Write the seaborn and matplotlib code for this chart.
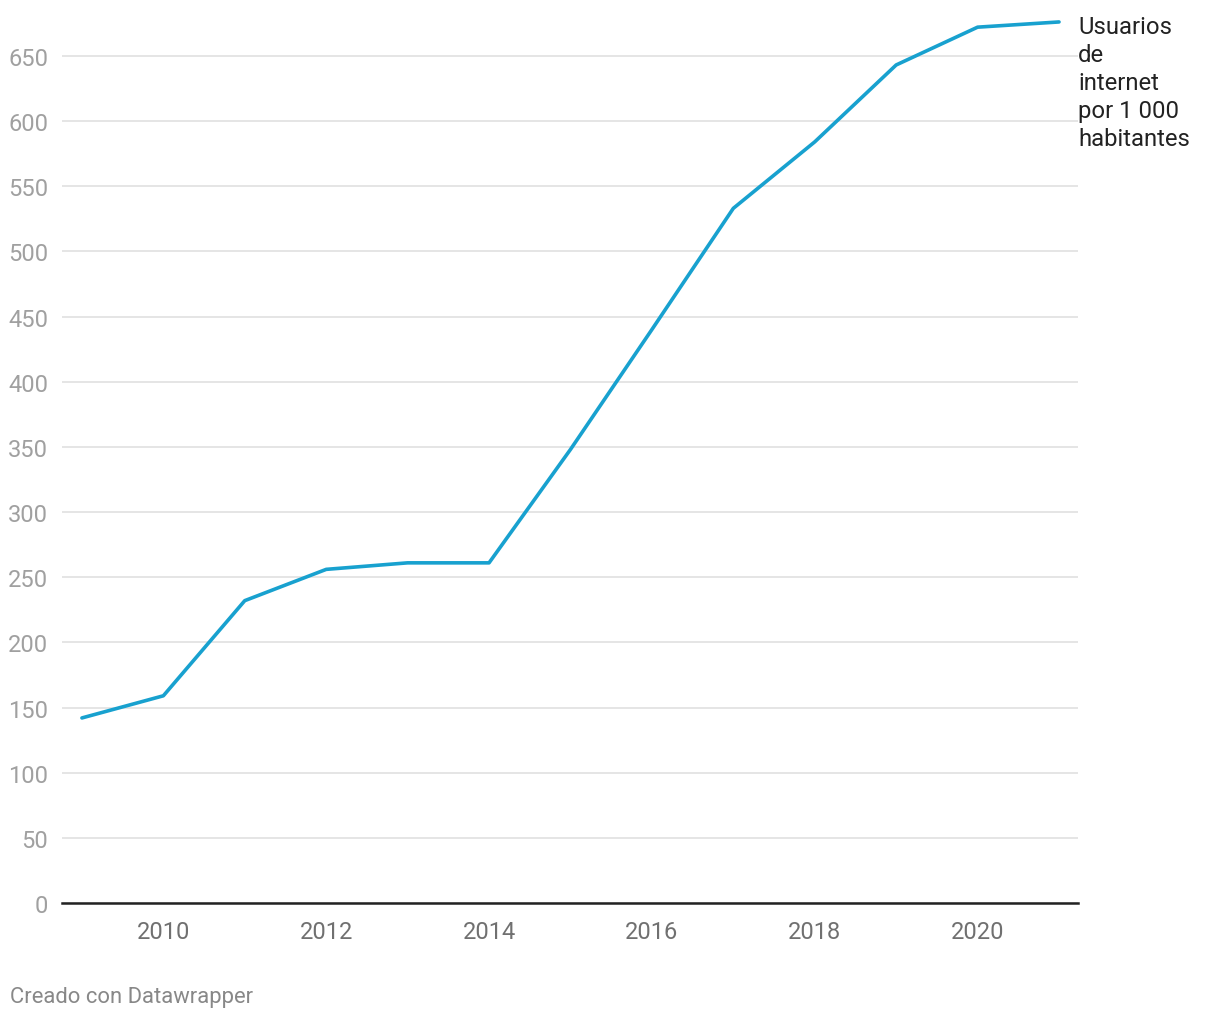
import pandas as pd
import matplotlib.pyplot as plt
import seaborn as sns

# Usuarios de internet por 1 000 habitantes
years = [2009, 2010, 2011, 2012, 2013, 2014, 2015, 2016, 2017, 2018, 2019, 2020, 2021]
users = [142, 159, 232, 256, 261, 261, 348, 440, 533, 584, 643, 672, 676]
y_ticks = [0, 50, 100, 150, 200, 250, 300, 350, 400, 450, 500, 550, 600, 650]
x_ticks = [2010, 2012, 2014, 2016, 2018, 2020]
series_label = "Usuarios\nde\ninternet\npor 1 000\nhabitantes"

df = pd.DataFrame({"year": years, "users": users})

sns.set_theme(style="white")
plt.rcParams["font.family"] = ["Roboto", "DejaVu Sans"]

fig = plt.figure(figsize=(12.2, 10.2), dpi=100)
ax = fig.add_axes([0.0508, 0.1137, 0.8328, 0.8753])

sns.lineplot(data=df, x="year", y="users", ax=ax, color="#18a1cf", linewidth=2.6)

ax.set_xlim(2008.755, 2021.233)
ax.set_ylim(0, 685)
ax.set_yticks(y_ticks)
ax.set_xticks(x_ticks)
ax.set_xlabel("")
ax.set_ylabel("")

ax.grid(axis="y", color="#e3e3e3", linewidth=1.3)
ax.set_axisbelow(True)
for s in ["top", "right", "left"]:
    ax.spines[s].set_visible(False)
ax.spines["bottom"].set_color("#222222")
ax.spines["bottom"].set_linewidth(1.8)

ax.tick_params(axis="y", length=0, pad=10, labelsize=17, labelcolor="#a0a0a0")
ax.tick_params(axis="x", length=0, pad=12, labelsize=17, labelcolor="#707070")

# label at end of line
ax.text(1.0, 1.0 - 5 / 893, series_label, transform=ax.transAxes, ha="left", va="top",
        fontsize=17.2, color="#222222", linespacing=1.27)

fig.text(10 / 1220, 1 - 998 / 1020, "Creado con Datawrapper", ha="left", va="center",
         fontsize=15.8, color="#888888")

fig.savefig("out.png", dpi=100)
